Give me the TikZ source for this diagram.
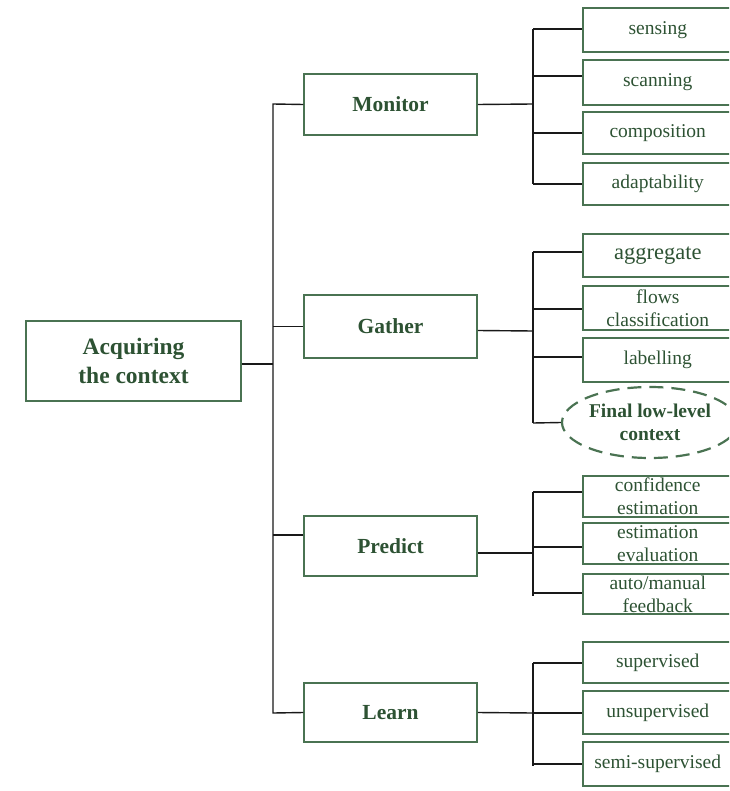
\documentclass[tikz,border=0pt]{standalone}
\usepackage{fontspec}
\setmainfont{Liberation Serif}
\usetikzlibrary{shapes.geometric}
\definecolor{boxgreen}{HTML}{4A7352}
\definecolor{txtgreen}{HTML}{2D5233}
\begin{document}
\begin{tikzpicture}[x=1pt,y=-1pt,
  box/.style={draw=boxgreen,line width=1.5pt,text=txtgreen,inner sep=0pt,align=center},
  rootbox/.style={box,minimum width=215pt,minimum height=80pt,font=\fontsize{23.5}{29}\selectfont\bfseries},
  catbox/.style={box,minimum width=173pt,font=\fontsize{21.5}{24}\selectfont\bfseries},
  leafbox/.style={box,anchor=west,minimum width=150pt,font=\fontsize{19.5}{23}\selectfont},
  finalnode/.style={ellipse,draw=boxgreen,text=txtgreen,line width=2.2pt,dash pattern=on 14pt off 8pt,
    minimum width=176pt,minimum height=71pt,inner sep=0pt,align=center,font=\fontsize{19.5}{23}\selectfont\bfseries},
  link/.style={draw=black!90,line width=1.4pt}]
\useasboundingbox (0,0) rectangle (729,791);
\clip (0,0) rectangle (729,791);

% root and first level
\node[rootbox] (root) at (133.5,361) {Acquiring\\the context};
\node[catbox,minimum height=61pt] (mon) at (390.5,104.5) {Monitor};
\node[catbox,minimum height=63pt] (gat) at (390.5,326.5) {Gather};
\node[catbox,minimum height=60pt] (pre) at (390.5,546) {Predict};
\node[catbox,minimum height=59pt] (lea) at (390.5,712.5) {Learn};

% trunk
\coordinate (tTop) at (273,104);
\coordinate (tBot) at (273,713);
\draw[link] ([yshift=-3pt]root.east) -- (273,364);
\draw[link] (mon.west) -- (tTop) -- (tBot) -- (lea.west);
\draw[link] (gat.west) -- (gat.west -| tTop);
\draw[link] ([yshift=11pt]pre.west) -- ([yshift=11pt]pre.west -| tTop);

% Monitor leaves
\node[leafbox,minimum height=44pt] (sen) at (582,30) {sensing};
\node[leafbox,minimum height=45pt] (sca) at (582,82.5) {scanning};
\node[leafbox,minimum height=42pt] (com) at (582,133) {composition};
\node[leafbox,minimum height=42pt] (ada) at (582,184) {adaptability};
\draw[link] (mon.east) -- (533,104);
\draw[link] (533,29) -- (533,184);
\draw[link] (533,29) -- (sen.west |- 0,29);
\draw[link] (533,76) -- (sca.west |- 0,76);
\draw[link] (533,133) -- (com.west);
\draw[link] (533,184) -- (ada.west);

% Gather leaves
\node[leafbox,minimum height=43pt,font=\fontsize{22.5}{25}\selectfont] (agg) at (582,255.5) {aggregate};
\node[leafbox,minimum height=44pt] (flo) at (582,308) {flows\\classification};
\node[leafbox,minimum height=44pt] (lab) at (582,360) {labelling};
\node[finalnode] (fin) at (650,422.5) {Final low-level\\context};
\draw[link] ([yshift=-4pt]gat.east) -- (533,331);
\draw[link] (533,252) -- (533,423);
\draw[link] (533,252) -- (agg.west |- 0,252);
\draw[link] (533,309) -- (flo.west |- 0,309);
\draw[link] (533,357) -- (lab.west |- 0,357);
\draw[link] (533,423) -- (fin.west);

% Predict leaves
\node[leafbox,minimum height=41pt] (con) at (582,496.5) {confidence\\estimation};
\node[leafbox,minimum height=41pt] (est) at (582,543.5) {estimation\\evaluation};
\node[leafbox,minimum height=40pt] (aut) at (582,594) {auto/manual\\feedback};
\draw[link] ([yshift=-7pt]pre.east) -- (533,553);
\draw[link] (533,492) -- (533,596);
\draw[link] (533,492) -- (con.west |- 0,492);
\draw[link] (533,547) -- (est.west |- 0,547);
\draw[link] (533,593) -- (aut.west |- 0,593);

% Learn leaves
\node[leafbox,minimum height=41pt] (sup) at (582,662.5) {supervised};
\node[leafbox,minimum height=43pt] (uns) at (582,712.5) {unsupervised};
\node[leafbox,minimum height=44pt] (sem) at (582,764) {semi-supervised};
\draw[link] (lea.east) -- (533,713);
\draw[link] (533,663) -- (533,766);
\draw[link] (533,663) -- (sup.west |- 0,663);
\draw[link] (533,713) -- (uns.west |- 0,713);
\draw[link] (533,764) -- (sem.west |- 0,764);
\end{tikzpicture}
\end{document}
